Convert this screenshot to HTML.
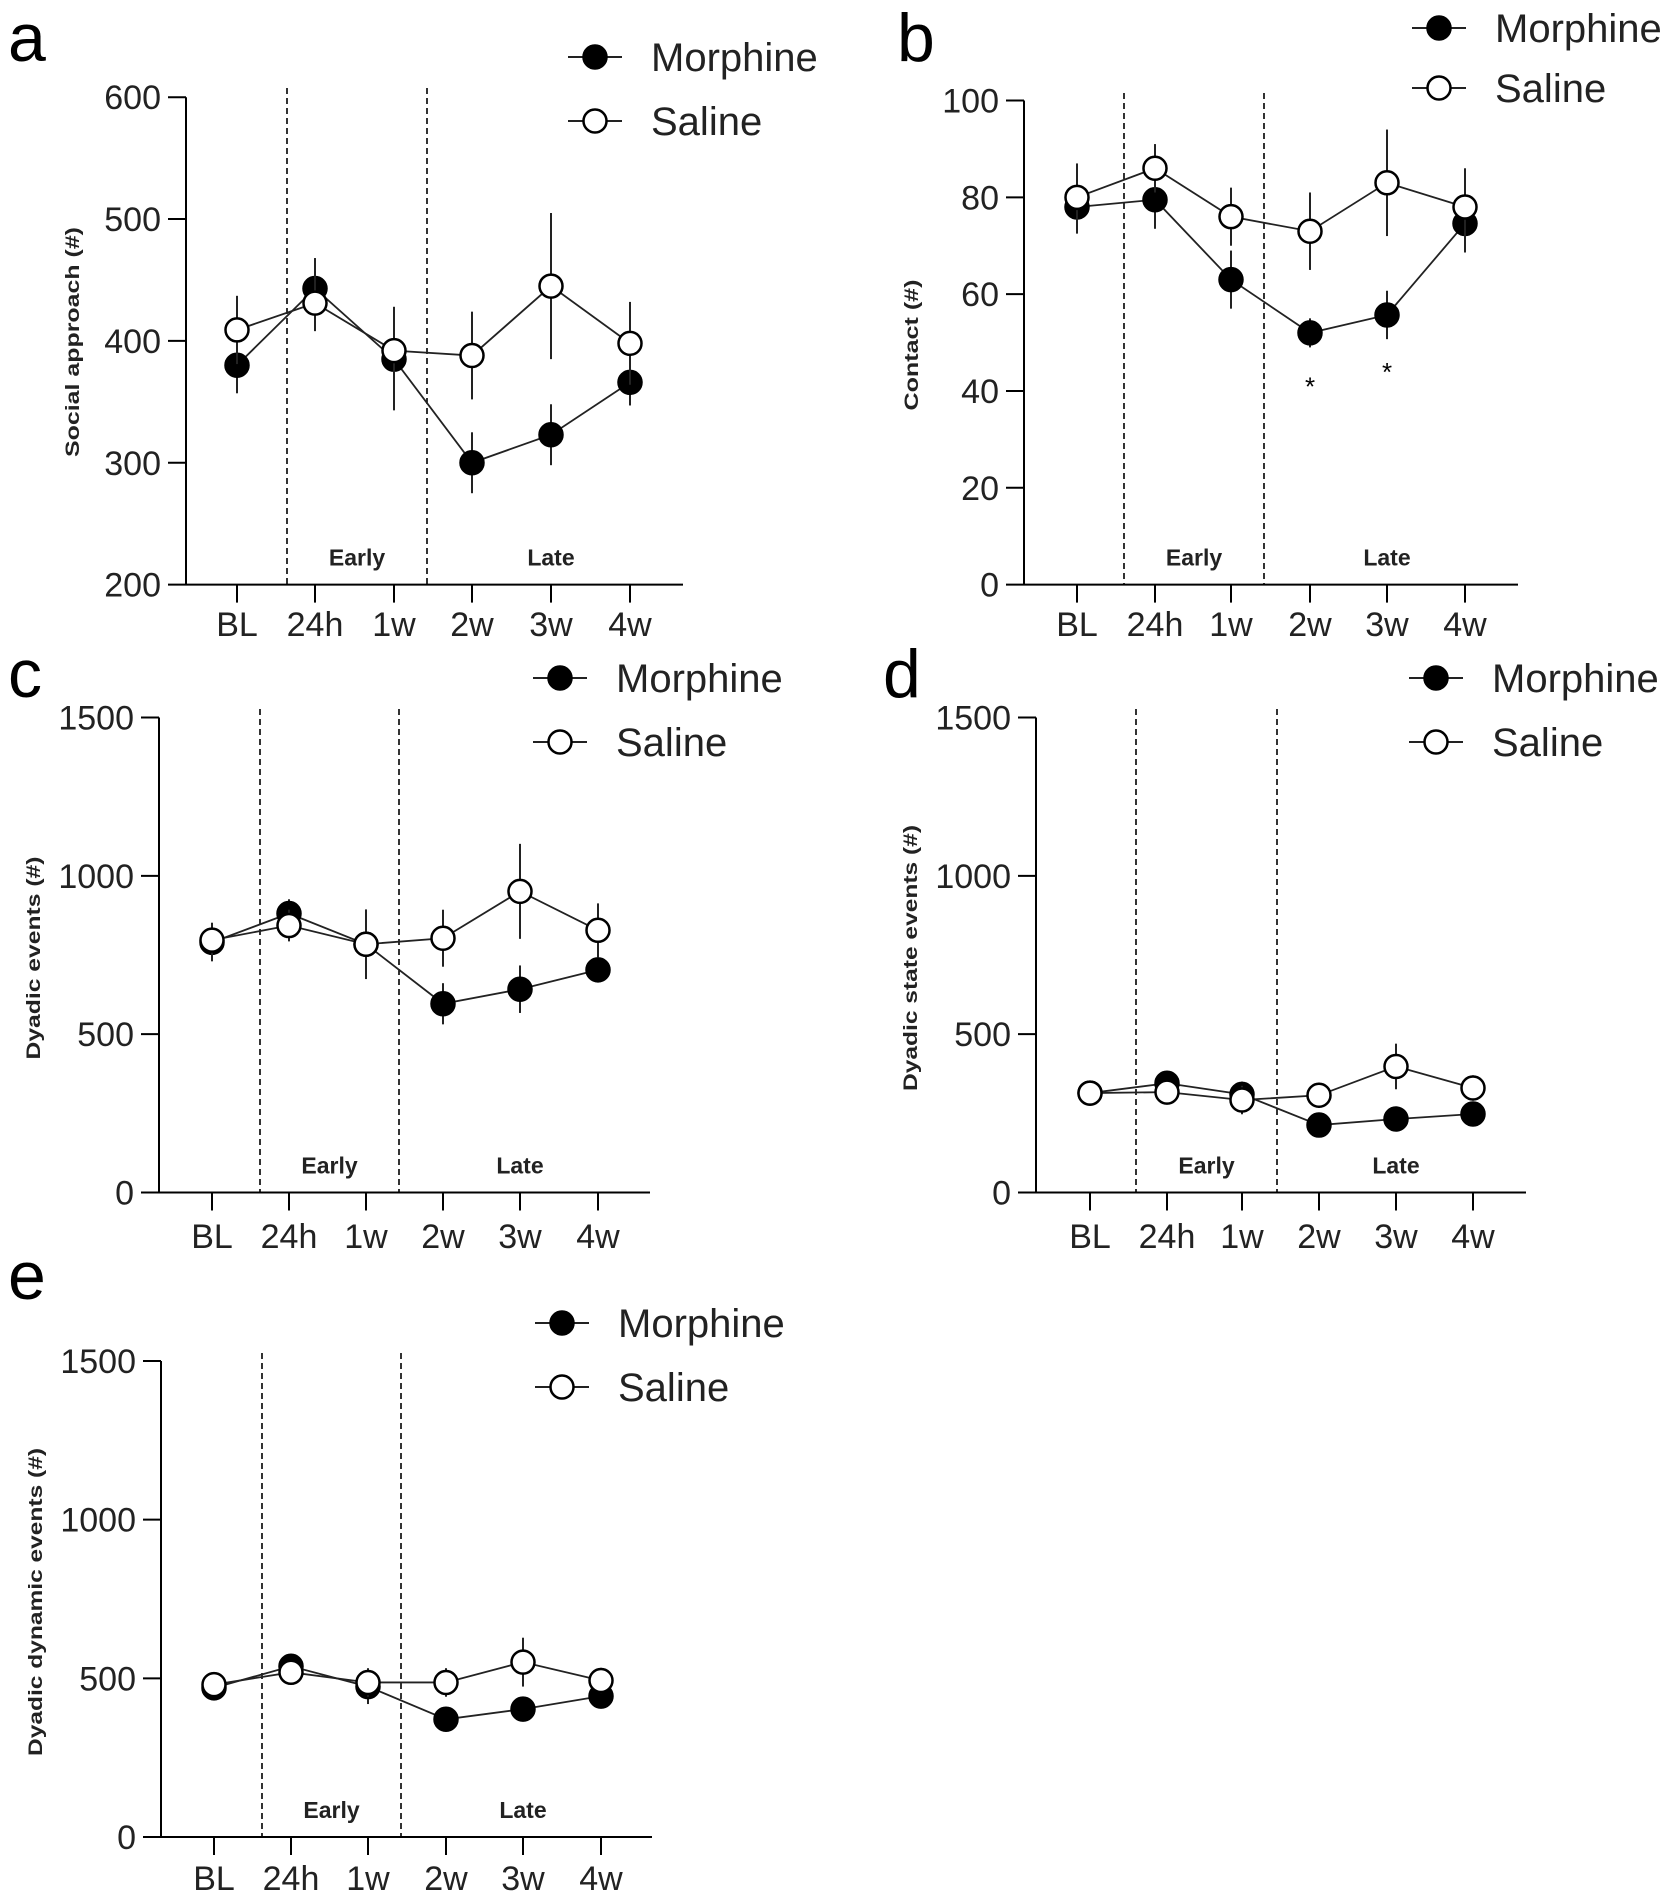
<!DOCTYPE html>
<html><head><meta charset="utf-8"><style>
html,body{margin:0;padding:0;background:#fff;}
svg{display:block;font-family:"Liberation Sans",sans-serif;}
</style></head><body>
<svg id="fig" width="1666" height="1897" viewBox="0 0 1666 1897" xmlns="http://www.w3.org/2000/svg"></svg>
<script>
const categories = ["BL","24h","1w","2w","3w","4w"];
// Panel a
const aMorphine = [380,443,385,300,323,366];
const aMorphineErr = [23,25,42,25,25,19];
const aSaline = [409,431,392,388,445,398];
const aSalineErr = [28,23,36,36,60,34];
const aTicks = [200,300,400,500,600];
// Panel b
const bMorphine = [78,79.5,63,52,55.7,74.6];
const bMorphineErr = [5.5,6,6,3,5,6];
const bSaline = [80,86,76,73,83,78];
const bSalineErr = [7,5,6,8,11,8];
const bTicks = [0,20,40,60,80,100];
const bStars = [null,null,null,42,45,null];
// Panel c
const cMorphine = [790,881,784,596,642,703];
const cMorphineErr = [60,45,100,65,75,40];
const cSaline = [797,843,784,803,951,828];
const cSalineErr = [55,50,110,90,150,85];
const dMorphine = [314,345,310,213,232,248];
const dMorphineErr = [20,20,40,25,30,25];
const dSaline = [314,317,292,307,398,330];
const dSalineErr = [20,20,45,40,72,40];
const eMorphine = [470,538,474,371,403,444];
const eMorphineErr = [20,20,55,25,35,25];
const eSaline = [480,519,487,487,551,493];
const eSalineErr = [20,20,45,45,77,40];
const eventTicks = [0,500,1000,1500];

const panels = [
 {id:'a', letter:'a', lx:8, ly:61, xAxis:186, xEnd:683, xs:[237,315,394,472,551,630], yTop:97.2, yBot:584.6, min:200, max:600, ticks:aTicks,
  m:aMorphine, me:aMorphineErr, s:aSaline, se:aSalineErr, dash:[287,427], dashTop:88, title:'Social approach (#)', tx:72, ty:342, tl:230,
  legX:595, legY:[57,121], lab:636},
 {id:'b', letter:'b', lx:897, ly:61, xAxis:1024, xEnd:1518, xs:[1077,1155,1231,1310,1387,1465], yTop:100.5, yBot:584.6, min:0, max:100, ticks:bTicks,
  m:bMorphine, me:bMorphineErr, s:bSaline, se:bSalineErr, dash:[1124,1264], dashTop:93, title:'Contact (#)', tx:911, ty:345, tl:131,
  legX:1439, legY:[28,88], lab:636, stars:bStars},
 {id:'c', letter:'c', lx:8, ly:697, xAxis:159, xEnd:650, xs:[212,289,366,443,520,598], yTop:717.5, yBot:1192.5, min:0, max:1500, ticks:eventTicks,
  m:cMorphine, me:cMorphineErr, s:cSaline, se:cSalineErr, dash:[260,399], dashTop:709, title:'Dyadic events (#)', tx:33, ty:958, tl:203,
  legX:560, legY:[678,742], lab:1248},
 {id:'d', letter:'d', lx:883, ly:697, xAxis:1036, xEnd:1526, xs:[1090,1167,1242,1319,1396,1473], yTop:717.5, yBot:1192.5, min:0, max:1500, ticks:eventTicks,
  m:dMorphine, me:dMorphineErr, s:dSaline, se:dSalineErr, dash:[1136,1277], dashTop:709, title:'Dyadic state events (#)', tx:910, ty:958, tl:266,
  legX:1436, legY:[678,742], lab:1248},
 {id:'e', letter:'e', lx:8, ly:1299, xAxis:161, xEnd:652, xs:[214,291,368,446,523,601], yTop:1361, yBot:1837, min:0, max:1500, ticks:eventTicks,
  m:eMorphine, me:eMorphineErr, s:eSaline, se:eSalineErr, dash:[262,401], dashTop:1353, title:'Dyadic dynamic events (#)', tx:35, ty:1602, tl:308,
  legX:562, legY:[1323,1387], lab:1890}
];
const NS='http://www.w3.org/2000/svg';
const svg=document.getElementById('fig');
function mk(tag, attrs, parent, text){
  const e=document.createElementNS(NS,tag);
  for(const k in attrs) e.setAttribute(k,attrs[k]);
  if(text!==undefined) e.textContent=text;
  (parent||svg).appendChild(e);
  return e;
}
panels.forEach(p=>{
  const g=mk('g',{});
  
  
  const y=v=>p.yBot-(v-p.min)/(p.max-p.min)*(p.yBot-p.yTop);
  const x=i=>p.xs[i];
  const L=mk('text',{x:p.lx,y:p.ly,'font-size':68},g,p.letter);
  
  
  const ya=mk('line',{x1:p.xAxis,x2:p.xAxis,y1:p.yTop,y2:p.yBot,stroke:'#000','stroke-width':2},g);
  
  
  const xa=mk('line',{x1:p.xAxis,x2:p.xEnd,y1:p.yBot,y2:p.yBot,stroke:'#000','stroke-width':2},g);
  
  
  p.ticks.forEach(t=>{
    mk('line',{x1:p.xAxis-18,x2:p.xAxis,y1:y(t),y2:y(t),stroke:'#000','stroke-width':2},g);
    const tl=mk('text',{x:p.xAxis-25,y:y(t)+12,'font-size':34,'text-anchor':'end',fill:'#222'},g,String(t));
    
    
  });
  categories.forEach((c,i)=>{
    mk('line',{x1:x(i),x2:x(i),y1:p.yBot,y2:p.yBot+18,stroke:'#000','stroke-width':2},g);
    const tl=mk('text',{x:x(i),y:p.lab,'font-size':34,'text-anchor':'middle',fill:'#222'},g,c);
    
    
  });
  p.dash.forEach(dx=>{
    const d=mk('line',{x1:dx,x2:dx,y1:p.dashTop,y2:p.yBot,stroke:'#000','stroke-width':1.6,'stroke-dasharray':'6 4'},g);
    
    
  });
  const e1=mk('text',{x:(p.dash[0]+p.dash[1])/2,y:p.yBot-19,'font-size':23,'font-weight':600,'text-anchor':'middle',fill:'#222'},g,'Early');
  
  
  const e2=mk('text',{x:x(4),y:p.yBot-19,'font-size':23,'font-weight':600,'text-anchor':'middle',fill:'#222'},g,'Late');
  
  
  const yt=mk('text',{x:0,y:0,'font-size':19,'font-weight':600,'text-anchor':'middle',fill:'#222',textLength:p.tl,lengthAdjust:'spacingAndGlyphs',transform:`translate(${p.tx+7},${p.ty}) rotate(-90)`},g,p.title);
  
  
  [['morphine',p.m,p.me,'#000'],['saline',p.s,p.se,'#fff']].forEach(([nm,vals,errs,fill])=>{
    const sg=mk('g',{},g);
    
    
    const pts=vals.map((v,i)=>x(i)+','+y(v)).join(' ');
    const pl=mk('polyline',{points:pts,fill:'none',stroke:'#222','stroke-width':1.8},sg);
    
    
    vals.forEach((v,i)=>{
      const eb=mk('line',{x1:x(i),x2:x(i),y1:y(v+errs[i]),y2:y(v-errs[i]),stroke:'#222','stroke-width':2},sg);
      
      
    });
    vals.forEach((v,i)=>{
      const c=mk('circle',{cx:x(i),cy:y(v),r:11.5,fill:fill,stroke:'#000','stroke-width':2.5},sg);
      
      
    });
  });
  if(p.stars){
    p.stars.forEach((v,i)=>{ if(v===null) return;
      const st=mk('text',{x:x(i),y:y(v)+14,'font-size':26,'text-anchor':'middle'},g,'*');
      
      
    });
  }
  [['Morphine','#000'],['Saline','#fff']].forEach(([nm,fill],k)=>{
    const lg=mk('g',{},g);
    
    
    const ly=p.legY[k];
    mk('line',{x1:p.legX-27,x2:p.legX+27,y1:ly,y2:ly,stroke:'#222','stroke-width':2},lg);
    mk('circle',{cx:p.legX,cy:ly,r:11.5,fill:fill,stroke:'#000','stroke-width':2.5},lg);
    mk('text',{x:p.legX+56,y:ly+14,'font-size':40,fill:'#222'},lg,nm);
  });
});
</script>
</body></html>
